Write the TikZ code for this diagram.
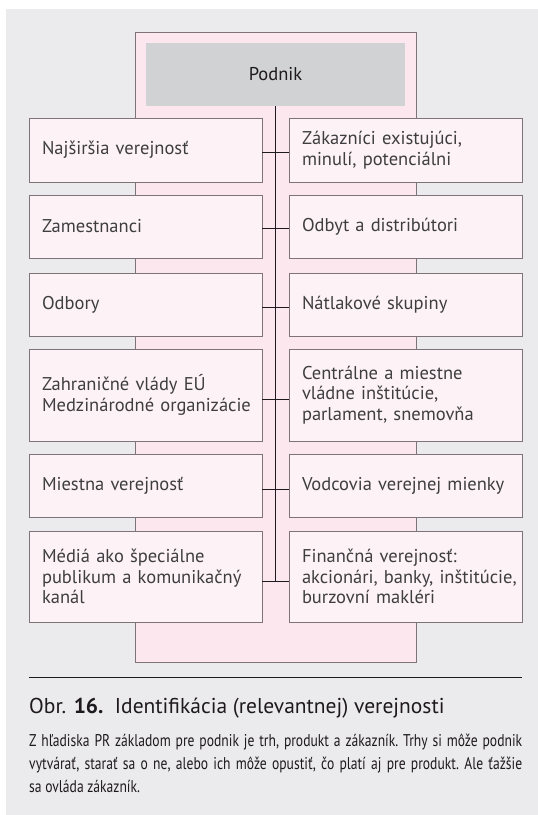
\documentclass[tikz,border=0pt]{standalone}
\usepackage{fontspec}
\setmainfont{PT Sans}
\newfontfamily\condfont{PT Sans}[FakeStretch=0.8]

\definecolor{pagebg}{RGB}{235,235,237}
\definecolor{framefill}{RGB}{252,231,239}
\definecolor{boxfill}{RGB}{253,242,245}
\definecolor{corefill}{RGB}{209,210,212}
\definecolor{edge}{RGB}{125,115,120}
\definecolor{ink}{RGB}{62,62,64}
\definecolor{wire}{RGB}{30,25,30}

\tikzset{
  party/.style={draw=edge, fill=boxfill, line width=0.8pt,
    minimum width=233pt, minimum height=#1, text width=207pt,
    align=left, inner sep=0pt, text=ink,
    font=\fontsize{18.5}{20.8}\selectfont},
  party/.default=63pt,
  link/.style={draw=wire, line width=0.9pt},
}

\begin{document}
\begin{tikzpicture}[x=1pt,y=-1pt]
\useasboundingbox (0,0) rectangle (538,815);
\fill[pagebg] (6,9) rectangle (538,815);

% pink frame behind the organisation
\node[draw=edge, fill=framefill, line width=0.8pt, minimum width=281pt,
      minimum height=630pt, inner sep=0pt] (frame) at (275.5,347) {};

% the organisation
\node[fill=corefill, minimum width=259pt, minimum height=63pt, inner sep=0pt,
      text=wire, font=\fontsize{18.5}{21}\selectfont] (core) at (275.5,74.5) {Podnik};

% publics, left column
\node[party=64pt] (L1) at (145.5,150)   {Najširšia verejnosť};
\node[party]      (L2) at (145.5,226.5) {Zamestnanci};
\node[party]      (L3) at (145.5,304.5) {Odbory};
\node[party=92pt] (L4) at (145.5,395)   {\mbox{Zahraničné vlády EÚ}\\\mbox{Medzinárodné organizácie}};
\node[party]      (L5) at (145.5,485.5) {Miestna verejnosť};
\node[party=91pt] (L6) at (145.5,576.5) {\mbox{Médiá ako špeciálne}\\\mbox{publikum a komunikačný}\\kanál};

% publics, right column
\node[party=64pt] (R1) at (405.5,150)   {\mbox{Zákazníci existujúci,}\\\mbox{minulí, potenciálni}};
\node[party]      (R2) at (405.5,226.5) {Odbyt a distribútori};
\node[party]      (R3) at (405.5,304.5) {Nátlakové skupiny};
\node[party=92pt] (R4) at (405.5,395)   {\mbox{Centrálne a miestne}\\\mbox{vládne inštitúcie,}\\\mbox{parlament, snemovňa}};
\node[party]      (R5) at (405.5,485.5) {\mbox{Vodcovia verejnej mienky}};
\node[party=91pt] (R6) at (405.5,576.5) {\mbox{Finančná verejnosť:}\\\mbox{akcionári, banky, inštitúcie,}\\\mbox{burzovní makléri}};

% cross links between the columns
\draw[link] ([yshift=-2pt]L1.east) -- ([yshift=-2pt]R1.west);
\draw[link] ([yshift=-2pt]L2.east) -- ([yshift=-2pt]R2.west);
\draw[link] ([yshift=-2.5pt]L3.east) -- ([yshift=-2.5pt]R3.west);
\draw[link] ([yshift=-4pt]L4.east) -- ([yshift=-4pt]R4.west);
\draw[link] ([yshift=-3.5pt]L5.east) -- ([yshift=-3.5pt]R5.west);
\draw[link] ([yshift=-5pt]L6.east) -- coordinate[pos=0.5] (trunkend) ([yshift=-5pt]R6.west);

% trunk from the organisation down to the last link
\draw[link] (core.south) -- (core.south |- trunkend);

% caption
\draw[draw=wire, line width=1pt] (29,677) -- (522,677);
\node[anchor=base west, inner sep=0pt, text=wire,
      font=\fontsize{21.5}{24}\selectfont] (caption) at (29,713)
  {Obr. \textbf{16.}\ \ Identifikácia (relevantnej) verejnosti};
\node[anchor=north west, inner sep=0pt, text width=493pt, align=justify, text=wire,
      font=\condfont\fontsize{17}{23}\selectfont] (note) at (29,734)
  {\frenchspacing\hyphenpenalty=10000 Z hľadiska PR základom pre podnik je trh, produkt a zákazník. Trhy si môže podnik\linebreak
   vytvárať, starať sa o ne, alebo ich môže opustiť, čo platí aj pre produkt. Ale ťažšie\linebreak
   sa ovláda zákazník.};
\end{tikzpicture}
\end{document}
